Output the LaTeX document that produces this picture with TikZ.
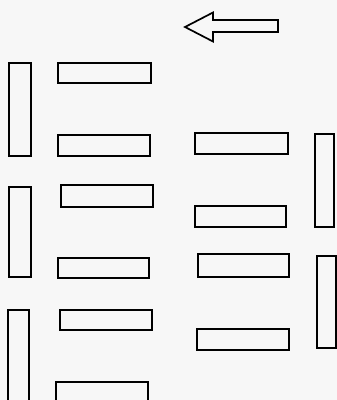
\documentclass[tikz,border=0pt]{standalone}
\begin{document}
\begin{tikzpicture}[x=1pt,y=-1pt,
  blk/.style={draw=black, line width=2pt, inner sep=0pt, fill=none},
  arrowshape/.style={draw=black, line width=1.7pt, line join=miter}]
\fill[gray!6] (0,0) rectangle (337,400);
\clip (0,0) rectangle (337,400);
% left column verticals
\node[blk, minimum width=22pt, minimum height=93pt] (v1) at (20,109.5) {};
\node[blk, minimum width=22pt, minimum height=90pt] (v2) at (20,232) {};
\node[blk, minimum width=21pt, minimum height=104pt] (v3) at (18.5,362) {};
% left horizontals
\node[blk, minimum width=93pt, minimum height=20pt] (h1) at (104.5,73) {};
\node[blk, minimum width=92pt, minimum height=21pt] (h2) at (104,145.5) {};
\node[blk, minimum width=92pt, minimum height=22pt] (h3) at (107,196) {};
\node[blk, minimum width=91pt, minimum height=20pt] (h4) at (103.5,268) {};
\node[blk, minimum width=92pt, minimum height=20pt] (h5) at (106,320) {};
\node[blk, minimum width=92pt, minimum height=22pt] (h6) at (102,393) {};
% middle horizontals
\node[blk, minimum width=93pt, minimum height=21pt] (m1) at (241.5,143.5) {};
\node[blk, minimum width=91pt, minimum height=21pt] (m2) at (240.5,216.5) {};
\node[blk, minimum width=91pt, minimum height=23pt] (m3) at (243.5,265.5) {};
\node[blk, minimum width=92pt, minimum height=21pt] (m4) at (243,339.5) {};
% right verticals
\node[blk, minimum width=19pt, minimum height=93pt] (r1) at (324.5,180.5) {};
\node[blk, minimum width=19pt, minimum height=92pt] (r2) at (326.5,302) {};
% arrow
\draw[arrowshape] (185,27) -- (213,12.5) -- (213,20) -- (278,20) -- (278,32)
  -- (213,32) -- (213,41.5) -- cycle;
\end{tikzpicture}
\end{document}
